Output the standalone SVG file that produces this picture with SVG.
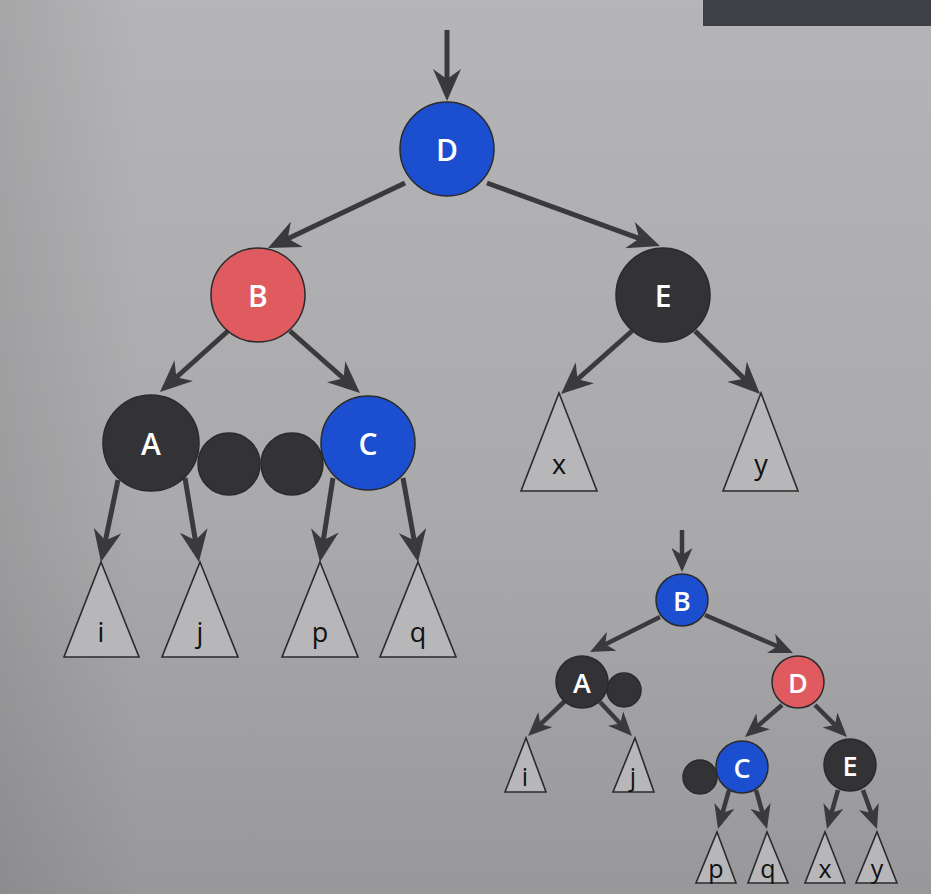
<svg xmlns="http://www.w3.org/2000/svg" width="931" height="894" viewBox="0 0 931 894">
<defs>
<linearGradient id="bg" x1="0" y1="0" x2="0" y2="1">
<stop offset="0" stop-color="#b5b4b6"/>
<stop offset="0.6" stop-color="#a9a8aa"/>
<stop offset="1" stop-color="#98979a"/>
</linearGradient>
<linearGradient id="bgl" x1="0" y1="0" x2="1" y2="0">
<stop offset="0" stop-color="#000" stop-opacity="0.08"/>
<stop offset="0.15" stop-color="#000" stop-opacity="0"/>
<stop offset="1" stop-color="#000" stop-opacity="0"/>
</linearGradient>
<marker id="ah" markerUnits="userSpaceOnUse" viewBox="0 0 32 28" markerWidth="32" markerHeight="28" refX="20" refY="14" orient="auto">
<path d="M0,0 L32,14 L0,28 L10,14 Z" fill="#3a3a3c"/>
</marker>
<marker id="ahs" markerUnits="userSpaceOnUse" viewBox="0 0 24 21" markerWidth="24" markerHeight="21" refX="14" refY="10.5" orient="auto">
<path d="M0,0 L24,10.5 L0,21 L7,10.5 Z" fill="#3a3a3c"/>
</marker>
</defs>
<style>
.edge{stroke:#3a3a3c;stroke-width:5;fill:none;marker-end:url(#ah)}
.edges{stroke:#3a3a3c;stroke-width:4.5;fill:none;marker-end:url(#ahs)}
.blue{fill:#1c4ed0;stroke:#2a2a2c;stroke-width:1.5}
.red{fill:#e05b60;stroke:#2a2a2c;stroke-width:1.5}
.dark{fill:#333335;stroke:#2a2a2c;stroke-width:1.5}
.tri{fill:#b7b6b8;stroke:#2b2b2d;stroke-width:1.6}
.lbl{font-family:"Open Sans","DejaVu Sans",sans-serif;font-weight:600;fill:#ffffff;text-anchor:middle;dominant-baseline:central}
.big{font-size:30px}
.sm{font-size:27px}
.tl{font-family:"Open Sans","DejaVu Sans",sans-serif;fill:#111;text-anchor:middle}
</style>
<rect x="0" y="0" width="931" height="894" fill="url(#bg)"/>
<rect x="0" y="0" width="931" height="894" fill="url(#bgl)"/>
<rect x="703" y="0" width="228" height="26" fill="#3f4045"/>

<g id="connectors">
<line class="edge" x1="447" y1="30" x2="447" y2="89"/>
<line class="edge" x1="405" y1="183" x2="278.8" y2="242.9"/>
<line class="edge" x1="487" y1="183" x2="648.7" y2="241.9"/>
<line class="edge" x1="228" y1="331" x2="168.9" y2="384"/>
<line class="edge" x1="290" y1="331" x2="351" y2="385"/>
<line class="edge" x1="632" y1="331" x2="570" y2="386"/>
<line class="edge" x1="695" y1="331" x2="751.4" y2="385.6"/>
<line class="edge" x1="118" y1="480" x2="103.4" y2="550.2"/>
<line class="edge" x1="185" y1="478" x2="197" y2="550.2"/>
<line class="edge" x1="333" y1="478" x2="321.8" y2="550.1"/>
<line class="edge" x1="403" y1="478" x2="415.9" y2="550.2"/>

<line class="edges" x1="682" y1="530" x2="682" y2="562"/>
<line class="edges" x1="660" y1="617" x2="599" y2="647.5"/>
<line class="edges" x1="705" y1="615" x2="783.8" y2="649"/>
<line class="edges" x1="566" y1="700" x2="535.3" y2="729.1"/>
<line class="edges" x1="600" y1="702" x2="625.1" y2="728.7"/>
<line class="edges" x1="782" y1="705" x2="752.6" y2="730.5"/>
<line class="edges" x1="815" y1="705" x2="839.9" y2="729.9"/>
<line class="edges" x1="729" y1="790" x2="720.7" y2="819.4"/>
<line class="edges" x1="756" y1="790" x2="764.3" y2="819.4"/>
<line class="edges" x1="838" y1="790" x2="829.7" y2="819.4"/>
<line class="edges" x1="863" y1="790" x2="873.6" y2="819.6"/>
</g>

<g id="big-D"><circle class="blue" cx="447" cy="149" r="47"/><text class="lbl big" x="447" y="149">D</text></g>
<g id="big-B"><circle class="red" cx="258" cy="295" r="47"/><text class="lbl big" x="258" y="295">B</text></g>
<g id="big-E"><circle class="dark" cx="663" cy="295" r="47"/><text class="lbl big" x="663" y="295">E</text></g>
<g id="big-dot1"><circle class="dark" cx="229" cy="464" r="31"/></g>
<g id="big-dot2"><circle class="dark" cx="292" cy="464" r="31"/></g>
<g id="big-A"><circle class="dark" cx="151" cy="443" r="48"/><text class="lbl big" x="151" y="443">A</text></g>
<g id="big-C"><circle class="blue" cx="368" cy="443" r="47"/><text class="lbl big" x="368" y="443">C</text></g>

<g id="big-i"><polygon class="tri" points="101,562 139,657 64,657"/><text class="tl" x="101" y="642" font-size="27">i</text></g>
<g id="big-j"><polygon class="tri" points="200,562 238,657 162,657"/><text class="tl" x="200" y="642" font-size="27">j</text></g>
<g id="big-p"><polygon class="tri" points="320,562 358,657 282,657"/><text class="tl" x="320" y="642" font-size="27">p</text></g>
<g id="big-q"><polygon class="tri" points="418,562 456,657 380,657"/><text class="tl" x="418" y="642" font-size="27">q</text></g>
<g id="big-x"><polygon class="tri" points="559,393 597,491 521,491"/><text class="tl" x="559" y="474" font-size="27">x</text></g>
<g id="big-y"><polygon class="tri" points="761,393 798,491 723,491"/><text class="tl" x="761" y="474" font-size="27">y</text></g>

<g id="small-B"><circle class="blue" cx="682" cy="600" r="26"/><text class="lbl sm" x="682" y="600">B</text></g>
<g id="small-dotA"><circle class="dark" cx="624" cy="690" r="17"/></g>
<g id="small-A"><circle class="dark" cx="582" cy="682" r="26"/><text class="lbl sm" x="582" y="682">A</text></g>
<g id="small-D"><circle class="red" cx="798" cy="682" r="26"/><text class="lbl sm" x="798" y="682">D</text></g>
<g id="small-dotC"><circle class="dark" cx="700" cy="777" r="17"/></g>
<g id="small-C"><circle class="blue" cx="742" cy="767" r="26"/><text class="lbl sm" x="742" y="767">C</text></g>
<g id="small-E"><circle class="dark" cx="850" cy="765" r="26"/><text class="lbl sm" x="850" y="765">E</text></g>

<g id="small-i"><polygon class="tri" points="526,738 546,792 505,792"/><text class="tl" x="525" y="786" font-size="25">i</text></g>
<g id="small-j"><polygon class="tri" points="635,738 654,792 613,792"/><text class="tl" x="633" y="786" font-size="25">j</text></g>
<g id="small-p"><polygon class="tri" points="717,832 736,883 696,883"/><text class="tl" x="716" y="878" font-size="25">p</text></g>
<g id="small-q"><polygon class="tri" points="767,832 788,883 748,883"/><text class="tl" x="768" y="878" font-size="25">q</text></g>
<g id="small-x"><polygon class="tri" points="825,832 845,883 805,883"/><text class="tl" x="825" y="878" font-size="25">x</text></g>
<g id="small-y"><polygon class="tri" points="877,832 897,883 856,883"/><text class="tl" x="877" y="878" font-size="25">y</text></g>
</svg>
